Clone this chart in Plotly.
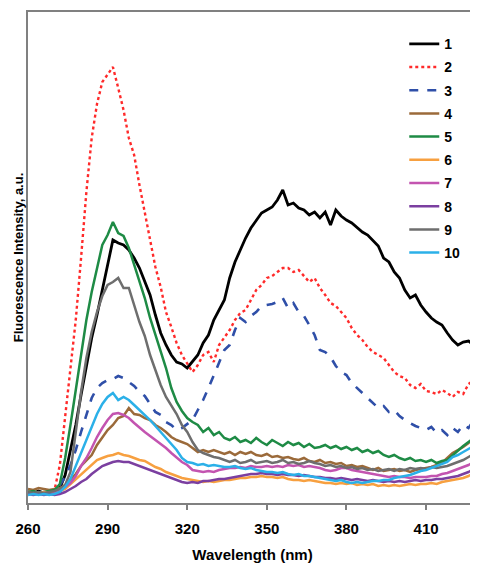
import plotly.graph_objects as go

wavelength = list(range(260, 431, 2))

s1 = [11,10,12,10,11,11,15,28,53,78,108,138,165,188,213,241,263,260,258,253,245,235,221,208,188,170,158,148,141,139,135,141,148,160,168,183,193,203,225,241,253,265,275,283,290,293,296,303,313,298,300,295,293,288,291,285,291,278,293,287,283,280,275,271,268,263,257,245,241,231,225,213,205,208,198,191,185,181,178,170,163,158,161,162,158,161]
s2 = [11,10,11,10,12,13,38,85,138,183,245,311,365,399,421,429,436,415,393,365,348,318,291,263,236,216,191,176,160,148,139,131,138,148,151,141,158,165,173,183,190,193,203,213,218,225,227,231,235,235,231,233,227,221,225,215,208,200,197,191,185,175,168,163,156,151,148,145,138,131,127,125,118,115,119,112,111,109,113,110,106,111,109,119,123,133]
s3 = [10,9,11,10,9,10,18,26,38,53,71,88,105,115,120,123,124,127,125,121,117,111,107,99,91,88,81,78,73,75,79,83,93,103,115,128,141,153,158,173,185,181,187,191,197,198,199,201,205,195,200,191,187,178,168,153,151,146,137,131,128,120,115,109,105,100,95,97,91,93,87,83,80,77,75,73,76,70,73,68,75,71,78,75,83,85]
s4 = [14,13,15,14,13,14,15,18,23,29,37,43,48,58,65,73,78,85,87,95,89,88,85,83,78,75,71,66,63,61,59,55,51,53,51,53,51,49,51,48,51,49,51,48,47,49,46,47,45,46,44,43,45,42,41,43,40,41,39,40,37,38,36,37,35,33,35,32,33,34,32,33,31,33,34,35,36,38,40,45,50,53,56,60,65,71]
s5 = [11,12,10,11,12,13,19,45,78,113,150,183,211,235,258,268,281,270,267,255,239,221,205,185,168,151,135,115,101,92,85,81,78,71,75,68,71,65,63,66,61,63,60,65,61,58,63,60,57,61,58,60,56,59,55,56,58,55,57,54,56,53,55,51,53,50,52,48,46,48,45,43,45,42,43,41,43,40,42,43,48,53,57,61,65,71]
s6 = [10,9,10,11,10,11,12,14,19,23,28,33,39,43,45,47,48,50,48,47,45,43,42,39,36,34,31,29,27,25,24,23,22,21,22,21,22,23,23,24,25,25,26,26,27,26,26,25,26,24,23,23,22,23,22,21,20,20,19,20,19,20,18,19,18,19,17,18,17,18,17,18,19,18,19,19,20,19,21,22,23,24,25,27,30,33]
s7 = [9,10,9,10,9,10,13,16,20,27,37,45,55,66,75,83,89,90,88,85,80,75,71,67,63,59,55,50,45,41,38,33,32,31,32,31,33,34,35,35,36,35,37,36,36,37,36,37,36,38,37,38,36,37,36,35,33,32,33,35,35,33,32,31,30,29,28,27,26,27,26,26,25,26,26,26,27,27,29,30,32,34,36,38,41,45]
s8 = [9,8,9,8,9,8,9,11,14,17,21,24,29,33,37,39,41,42,41,41,39,37,35,33,31,29,27,25,23,21,20,21,20,22,22,23,24,24,25,26,27,28,29,29,30,29,29,28,29,28,28,27,28,27,26,26,25,25,24,25,24,23,24,23,22,23,22,21,22,21,22,21,22,23,22,23,23,24,24,25,26,27,29,31,34,37]
s9 = [11,10,11,10,11,12,14,18,31,71,111,145,171,191,207,218,221,225,215,215,197,181,167,148,133,118,106,98,89,78,71,61,53,50,48,46,45,43,41,43,40,41,43,40,41,42,40,41,43,40,41,39,40,42,40,39,37,38,36,37,35,36,34,35,33,34,32,33,34,32,34,33,35,34,35,34,36,35,36,37,39,41,43,46,49,53]
s10 = [8,9,8,9,8,9,11,16,24,37,51,63,77,89,99,106,110,103,106,103,98,93,89,83,77,71,65,58,53,45,41,40,38,39,37,38,37,36,36,37,35,34,35,33,32,31,31,30,31,29,28,29,27,27,26,25,24,23,22,23,21,20,21,20,21,22,22,23,23,25,26,27,28,30,32,33,35,37,39,41,46,48,51,54,57,61]

names = ["1", "2", "3", "4", "5", "6", "7", "8", "9", "10"]
series = [s1, s2, s3, s4, s5, s6, s7, s8, s9, s10]
colors = ["#000000", "#FF2A2A", "#2F4FA8", "#9B6A3A", "#1E8B45",
          "#F7A040", "#C354B0", "#7B3FA0", "#6E6E6E", "#2BB0E8"]
dashes = ["solid", "dot", "dash", "solid", "solid",
          "solid", "solid", "solid", "solid", "solid"]
widths = [2.8, 2.4, 2.6, 2.5, 2.5, 2.5, 2.5, 2.5, 2.5, 2.5]
xticks = [260, 290, 320, 350, 380, 410]

fig = go.Figure()
for i, (n, s) in enumerate(zip(names, series)):
    fig.add_trace(go.Scatter(
        x=wavelength, y=s, mode="lines", name=n, legendgroup=n,
        line=dict(color=colors[i], dash=dashes[i], width=widths[i]),
    ))

font = "Liberation Sans, Arial, sans-serif"
fig.update_layout(
    width=470, height=556,
    margin=dict(l=20, r=1, t=4, b=61),
    paper_bgcolor="white", plot_bgcolor="white",
    showlegend=True,
    legend=dict(x=0.838, y=0.967, xanchor="left", yanchor="top",
                font=dict(family=font, size=14, color="black", weight="bold"),
                tracegroupgap=2, bgcolor="rgba(0,0,0,0)",
                itemwidth=30),
    xaxis=dict(range=[260, 429.2], tickvals=xticks, ticks="outside",
               ticklen=5, tickcolor="#808080", tickwidth=1.5,
               ticklabelstandoff=6,
               showline=True, linecolor="#808080", linewidth=1.5,
               mirror=True, showgrid=False, zeroline=False,
               tickfont=dict(family=font, size=15, color="black", weight="bold"),
               title=dict(text="Wavelength (nm)", standoff=14,
                          font=dict(family=font, size=15, color="black", weight="bold"))),
    yaxis=dict(range=[0, 491], showticklabels=False, ticks="",
               showline=True, linecolor="#808080", linewidth=1.5,
               showgrid=False, zeroline=False, automargin=False,
               title=dict(text="Fluorescence Intensity, a.u.", standoff=0,
                          font=dict(family=font, size=13, color="black", weight="bold"))),
)

fig.write_html("out.html")
